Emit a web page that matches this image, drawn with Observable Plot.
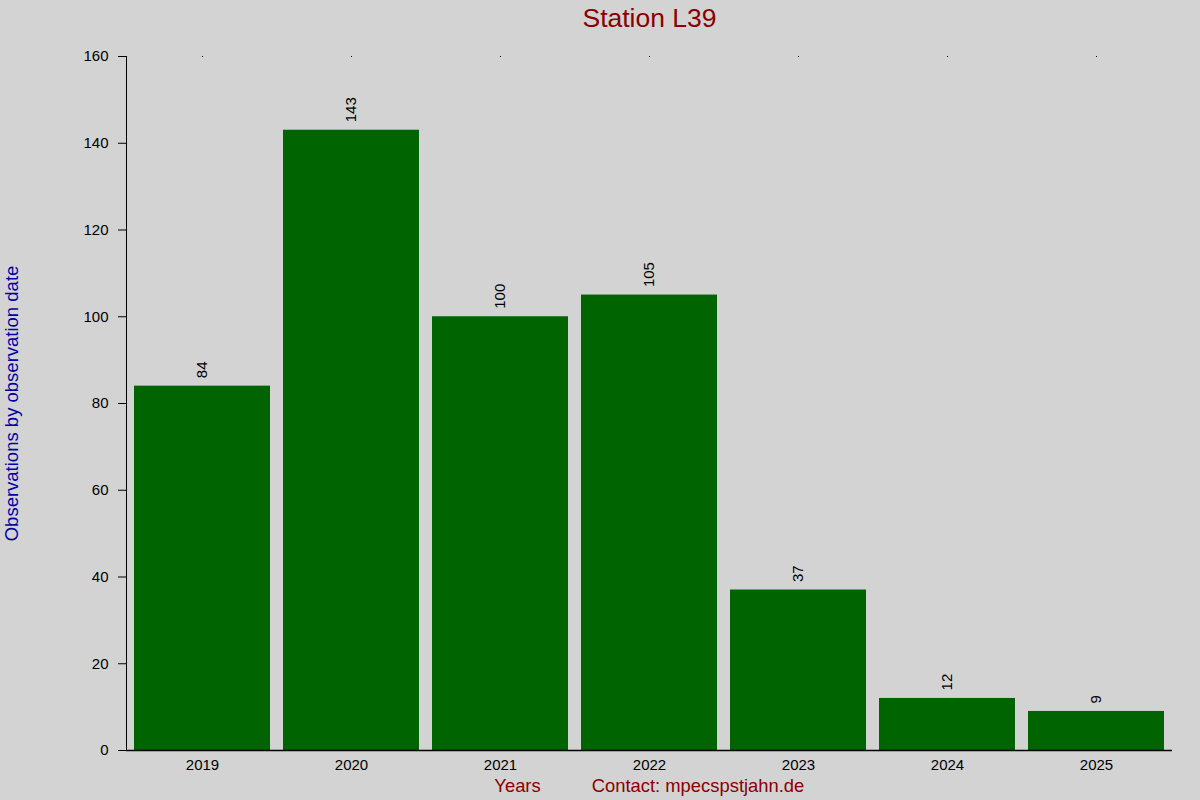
<!DOCTYPE html>
<html>
<head>
<meta charset="utf-8">
<script src="https://cdn.jsdelivr.net/npm/d3@7"></script>
<script src="https://cdn.jsdelivr.net/npm/@observablehq/plot@0.6"></script>
<style>
  html, body { margin: 0; padding: 0; background: #d3d3d3; }
  #chart svg { display: block; }
</style>
</head>
<body>
<div id="chart"></div>
<script>
const years = ["2019", "2020", "2021", "2022", "2023", "2024", "2025"];
const counts = [84, 143, 100, 105, 37, 12, 9];
const yTicks = [0, 20, 40, 60, 80, 100, 120, 140, 160];
const titleText = "Station L39";
const yLabel = "Observations by observation date";
const xLabel = "Years";
const contactText = "Contact: mpecspstjahn.de";

const data = years.map((y, i) => ({year: y, count: counts[i]}));
const font = "'Liberation Sans', Arial, sans-serif";

const chart = Plot.plot({
  width: 1200,
  height: 800,
  marginLeft: 126,
  marginRight: 28,
  marginTop: 56,
  marginBottom: 50,
  style: {background: "#d3d3d3", fontFamily: font, fontSize: "15px", color: "black"},
  x: {domain: years, paddingInner: 0.09, paddingOuter: 0.045, label: null},
  y: {domain: [0, 160], ticks: yTicks, label: null},
  marks: [
    Plot.barY(data, {x: "year", y: "count", fill: "#006400"}),
    Plot.text(data, {
      x: "year", y: "count", text: d => String(d.count),
      rotate: -90, textAnchor: "start", lineAnchor: "middle",
      dy: -8, fontSize: 15, fill: "black"
    }),
    Plot.axisY({ticks: yTicks, tickSize: 8, tickPadding: 10, fontSize: 15, stroke: "black", label: null}),
    Plot.frame({anchor: "left", stroke: "black"}),
    Plot.axisX({anchor: "bottom", tickSize: 0, tickPadding: 9, fontSize: 15, label: null}),
    Plot.ruleY([0], {stroke: "black", strokeWidth: 1.5}),
    Plot.axisX({anchor: "top", tickSize: 1, tickFormat: () => "", label: null, stroke: "black"}),
    Plot.text([titleText], {frameAnchor: "top", textAnchor: "middle", lineAnchor: "middle", dy: -38, fontSize: 26.5, fill: "#8b0000"}),
    Plot.text([yLabel], {frameAnchor: "left", textAnchor: "middle", rotate: -90, lineAnchor: "middle", dx: -114, fontSize: 18.5, fill: "#0000a8"}),
    Plot.text([xLabel], {frameAnchor: "bottom", textAnchor: "middle", lineAnchor: "middle", dx: -132, dy: 36, fontSize: 18.4, fill: "#8b0000"}),
    Plot.text([contactText], {frameAnchor: "bottom", textAnchor: "middle", lineAnchor: "middle", dx: 48.5, dy: 36, fontSize: 18.4, fill: "#8b0000"})
  ]
});
document.getElementById("chart").append(chart);
</script>
</body>
</html>
